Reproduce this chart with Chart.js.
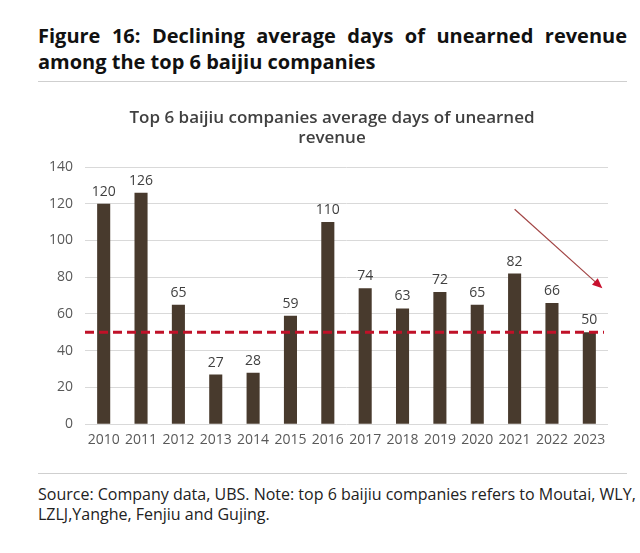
<!DOCTYPE html>
<html>
<head>
<meta charset="utf-8">
<script src="https://cdn.jsdelivr.net/npm/chart.js@4"></script>
<style>
  html, body { margin: 0; padding: 0; background: #fff; }
  body { width: 640px; height: 553px; position: relative; overflow: hidden; font-family: "Open Sans", sans-serif; }
  #fig-title {
    position: absolute; left: 38px; top: 23px; width: 589px;
    font-size: 20px; font-weight: 700; line-height: 26px; color: #111;
    text-align: justify; text-align-last: left;
  }
  .rule { position: absolute; left: 38px; width: 589px; height: 0; border-top: 1px solid #cfcfcf; }
  #chart-title {
    position: absolute; left: 82px; top: 107px; width: 500px; white-space: nowrap;
    text-align: center; font-size: 17px; font-weight: 600; line-height: 20px; color: #404040;
  }
  #source {
    position: absolute; left: 38px; top: 484px; width: 602px;
    font-size: 16px; line-height: 20px; color: #222;
  }
  #chart-box { position: absolute; left: 0; top: 95px; width: 640px; height: 360px; }
</style>
</head>
<body>
<div id="fig-title">Figure 16: Declining average days of unearned revenue among the top 6 baijiu companies</div>
<div class="rule" style="top:81px"></div>
<div id="chart-box"><canvas id="unearnedChart"></canvas></div>
<div id="chart-title">Top 6 baijiu companies average days of unearned<br>revenue</div>
<div class="rule" style="top:473px"></div>
<div id="source">Source: Company data, UBS. Note: top 6 baijiu companies refers to Moutai, WLY,<br>LZLJ,Yanghe, Fenjiu and Gujing.</div>

<script>
// --- data ---
const years = ["2010", "2011", "2012", "2013", "2014", "2015", "2016",
               "2017", "2018", "2019", "2020", "2021", "2022", "2023"];
const avgDays = [120, 126, 65, 27, 28, 59, 110, 74, 63, 72, 65, 82, 66, 50];
const refLine = 50;
// arrow drawn in data units: [category index, value]
const arrowFrom = [11.0, 117];
const arrowTo = [13.35, 74];

const barColor = "#483a2d";
const labelColor = "#404040";

// value labels above each bar
const barLabels = {
  id: "barLabels",
  afterDatasetsDraw(chart) {
    const ctx = chart.ctx;
    const meta = chart.getDatasetMeta(0);
    ctx.save();
    ctx.font = "14px 'Open Sans'";
    ctx.fillStyle = labelColor;
    ctx.textAlign = "center";
    ctx.textBaseline = "bottom";
    meta.data.forEach((bar, i) => {
      ctx.fillText(String(avgDays[i]), bar.x, bar.y - 5);
    });
    ctx.restore();
  }
};

// dashed red line at 50 + the trend arrow
const overlays = {
  id: "overlays",
  afterDatasetsDraw(chart) {
    const { ctx, chartArea, scales } = chart;
    const y = scales.y.getPixelForValue(refLine);
    ctx.save();
    ctx.strokeStyle = "#c01128";
    ctx.lineWidth = 3;
    ctx.setLineDash([9, 5]);
    ctx.beginPath();
    ctx.moveTo(chartArea.left, y);
    ctx.lineTo(chartArea.right - 4, y);
    ctx.stroke();

    // arrow
    const x1 = scales.x.getPixelForValue(arrowFrom[0]);
    const y1 = scales.y.getPixelForValue(arrowFrom[1]);
    const x2 = scales.x.getPixelForValue(arrowTo[0]);
    const y2 = scales.y.getPixelForValue(arrowTo[1]);
    const ang = Math.atan2(y2 - y1, x2 - x1);
    const head = 11;
    ctx.setLineDash([]);
    ctx.strokeStyle = "#a24545";
    ctx.lineWidth = 1.2;
    ctx.beginPath();
    ctx.moveTo(x1, y1);
    ctx.lineTo(x2 - head * 0.8 * Math.cos(ang), y2 - head * 0.8 * Math.sin(ang));
    ctx.stroke();
    ctx.fillStyle = "#c8102e";
    ctx.beginPath();
    ctx.moveTo(x2, y2);
    ctx.lineTo(x2 - head * Math.cos(ang - 0.4), y2 - head * Math.sin(ang - 0.4));
    ctx.lineTo(x2 - head * Math.cos(ang + 0.4), y2 - head * Math.sin(ang + 0.4));
    ctx.closePath();
    ctx.fill();
    ctx.restore();
  }
};

const ctx = document.getElementById("unearnedChart").getContext("2d");
new Chart(ctx, {
  type: "bar",
  data: {
    labels: years,
    datasets: [{
      data: avgDays,
      backgroundColor: barColor,
      borderWidth: 0,
      barPercentage: 0.35,
      categoryPercentage: 1.0
    }]
  },
  options: {
    responsive: true,
    maintainAspectRatio: false,
    animation: false,
    layout: { padding: { left: 40, right: 32, top: 72, bottom: 0 } },
    plugins: {
      legend: { display: false },
      tooltip: { enabled: false },
      title: { display: false }
    },
    scales: {
      x: {
        grid: { display: false, drawTicks: false },
        border: { display: false },
        ticks: { color: "#595959", font: { family: "'Open Sans'", size: 14 }, padding: 7, maxRotation: 0, autoSkip: false }
      },
      y: {
        min: 0,
        max: 140,
        ticks: { stepSize: 20, color: "#595959", font: { family: "'Open Sans'", size: 14 }, padding: 12 },
        grid: { color: "#d9d9d9", lineWidth: 1, drawTicks: false },
        border: { display: false },
        afterFit(scale) { scale.width = 45; }
      }
    }
  },
  plugins: [barLabels, overlays]
});
</script>
</body>
</html>
